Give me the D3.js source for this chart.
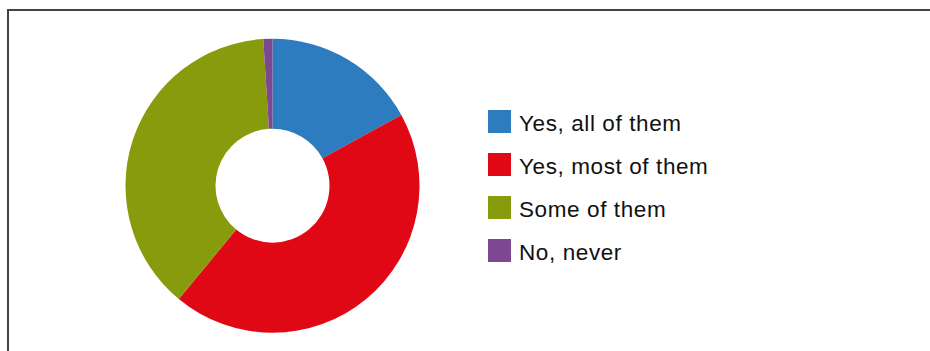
<!DOCTYPE html>
<html>
<head>
<meta charset="utf-8">
<script src="https://cdn.jsdelivr.net/npm/d3@7"></script>
<style>
  html, body { margin: 0; padding: 0; background: #fff; }
  svg { display: block; }
</style>
</head>
<body>
<svg id="chart" width="930" height="351"></svg>
<script>
// Survey answers, share of respondents (%)
const categories = ["Yes, all of them", "Yes, most of them", "Some of them", "No, never"];
const values = [17, 44, 38, 1];
const colors = ["#2c7cbf", "#e00814", "#889b0d", "#7d4792"];

const svg = d3.select("#chart");

// Outer frame (open to the right and bottom edges)
svg.append("rect")
  .attr("x", 8).attr("y", 10)
  .attr("width", 940).attr("height", 360)
  .attr("fill", "none")
  .attr("stroke", "#444")
  .attr("stroke-width", 2);

const cx = 272.5, cy = 185.7;
const outerR = 147, innerR = 57;

const pie = d3.pie().sort(null).value(d => d)(values);
const arc = d3.arc().innerRadius(innerR).outerRadius(outerR);
const color = d3.scaleOrdinal().domain(categories).range(colors);

svg.append("g")
  .attr("transform", `translate(${cx},${cy})`)
  .selectAll("path")
  .data(pie)
  .join("path")
  .attr("d", arc)
  .attr("fill", (d, i) => color(categories[i]));

// Legend
const legend = svg.append("g").attr("transform", "translate(488,110)");
const rowH = 43;
const items = legend.selectAll("g")
  .data(categories)
  .join("g")
  .attr("transform", (d, i) => `translate(0,${i * rowH})`);

items.append("rect")
  .attr("width", 23).attr("height", 23)
  .attr("fill", d => color(d));

items.append("text")
  .attr("x", 31).attr("y", 21)
  .attr("font-family", "'Liberation Sans', Arial, sans-serif")
  .attr("font-size", 22.5)
  .attr("letter-spacing", 0.6)
  .attr("fill", "#111")
  .text(d => d);
</script>
</body>
</html>
